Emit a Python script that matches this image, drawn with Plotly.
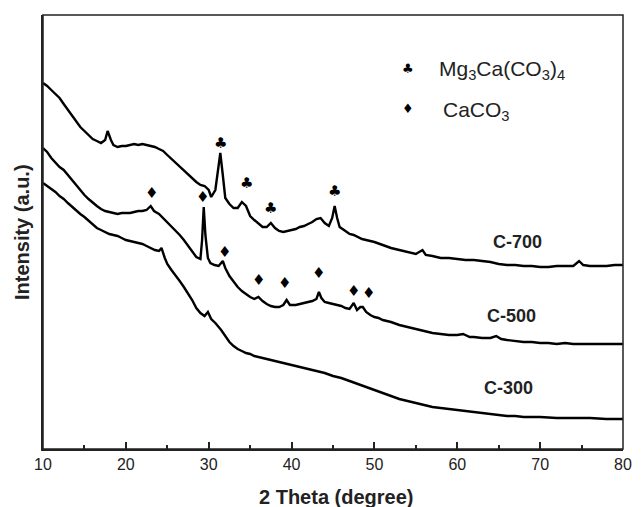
import plotly.graph_objects as go

# ---------------- data (intensity in arbitrary units) ----------------
c700_x = [10, 10.5, 11, 11.5, 12, 12.5, 13, 13.5, 14, 14.5, 15, 15.5, 16, 16.5, 17, 17.5,
          17.8, 18.2,
          18.5, 19, 19.5, 20, 20.5, 21, 21.5, 22, 22.5, 23, 23.5, 24, 24.5, 25, 25.5, 26, 26.5, 27,
          27.5, 28, 28.5, 29, 29.5, 30,
          30.3, 30.8, 31.1, 31.4, 31.7, 32.0,
          32.5, 33, 33.5, 34, 34.5, 35, 35.5, 36, 36.5, 37, 37.5, 38, 38.5, 39, 39.5, 40, 40.5, 41,
          41.5, 42, 42.5, 43, 43.5, 44, 44.5,
          44.9, 45.2, 45.5, 45.8,
          46.5, 47, 47.5, 48, 48.5, 49, 49.5, 50,
          51, 52, 53, 54, 55,
          55.8, 56.2,
          57, 58, 59, 60, 61, 62, 63, 64, 65, 66, 67, 68, 69, 70, 71, 72, 73, 74,
          74.7, 75.2,
          76, 77, 78, 79, 80]
c700_y = [366, 363, 359, 355, 351, 345, 339, 334, 328, 322, 318, 314, 310, 308, 306, 309,
          318, 309,
          304, 302, 303, 303, 304, 305, 304, 305, 304, 303, 302, 300, 298, 294, 290, 287, 283, 279,
          275, 271, 267, 264, 263, 259,
          252, 259, 279, 296, 274, 251,
          245, 241, 241, 247, 243, 233, 229, 225, 222, 222, 226, 221, 218, 217, 218, 219, 220, 222,
          223, 225, 227, 230, 231, 226, 223,
          231, 243, 231, 222,
          218, 215, 214, 212, 210, 209, 208, 207,
          204, 201, 199, 197, 195,
          199, 194,
          193, 191, 191, 190, 189, 189, 188, 187, 185, 184, 184, 183, 183, 182, 182, 183, 183, 183,
          188, 184,
          183, 183, 183, 184, 184]

c500_x = [10, 10.5, 11, 11.5, 12, 12.5, 13, 13.5, 14, 14.5, 15, 15.5, 16, 16.5, 17, 17.5, 18,
          18.5, 19, 19.5, 20, 20.5, 21, 21.5, 22, 22.5, 23,
          23.4,
          24, 24.5, 25, 25.5, 26, 26.5, 27, 27.5, 28, 28.5, 29,
          29.2, 29.4, 29.6, 29.9, 30.2, 30.7, 31.2, 31.7,
          32, 32.5, 33, 33.5, 34, 34.5, 35, 35.5, 36, 36.5, 37, 37.5, 38, 38.5, 39,
          39.4, 39.8,
          40.5, 41, 41.5, 42, 42.5, 43,
          43.3, 43.6,
          44, 44.5, 45, 45.5, 46, 46.5, 47, 47.5,
          47.9, 48.3, 48.6,
          49, 49.5, 50, 50.5,
          51, 52, 53, 54, 55, 56, 57, 58, 59, 60,
          60.7, 61.5,
          62, 63, 64,
          64.7, 65.3,
          66, 67, 68, 69, 70, 71, 72, 73, 74, 75, 76, 77, 78, 79, 80]
c500_y = [301, 297, 291, 286, 282, 279, 274, 268, 263, 259, 254, 250, 246, 243, 240, 238, 237,
          236, 235, 236, 236, 236, 237, 238, 238, 239, 243,
          238,
          235, 231, 227, 222, 218, 214, 209, 203, 197, 192, 190,
          209, 242, 214, 191, 186, 184, 183, 188,
          181, 173, 167, 162, 158, 155, 152, 150, 152, 148, 145, 143, 142, 142, 144,
          149, 144,
          144, 145, 146, 147, 148, 150,
          157, 151,
          147, 146, 145, 144, 143, 141, 140, 146,
          139, 142, 142,
          137, 134, 132, 131,
          129, 127, 124, 122, 120, 118, 116, 115, 114, 114,
          115, 112,
          112, 111, 111,
          113, 110,
          109, 108, 107, 107, 106, 106, 105, 106, 105, 105, 105, 105, 105, 105, 105]

c300_x = [10, 10.5, 11, 11.5, 12, 12.5, 13, 13.5, 14, 14.5, 15, 15.5, 16, 16.5, 17, 17.5, 18,
          18.5, 19, 19.5, 20, 20.5, 21, 21.5, 22, 22.5, 23, 23.5, 24,
          24.3, 24.7,
          25, 25.5, 26, 26.5, 27, 27.5, 28, 28.5, 29, 29.5,
          29.9, 30.3, 30.8, 31.5,
          32, 32.5, 33, 33.5, 34, 34.5, 35, 35.5, 36, 36.5, 37,
          38, 39, 40, 41, 42, 43, 44, 45, 46, 47, 48, 49, 50, 51, 52, 53, 54, 55, 56, 57, 58, 59,
          60, 61, 62, 63, 64, 65, 66, 67, 68, 69, 70,
          72, 74, 76, 78, 80]
c300_y = [266, 263, 260, 257, 253, 250, 246, 242, 238, 235, 232, 228, 224, 221, 219, 217, 215,
          214, 213, 211, 209, 208, 207, 206, 205, 203, 201, 199, 198,
          201, 191,
          185, 179, 174, 168, 162, 156, 149, 141, 136, 133,
          137, 130, 126, 119,
          113, 107, 103, 100, 98, 96, 95, 93, 92, 91, 90,
          88, 86, 84, 82, 80, 78, 76, 73, 71, 68, 65, 62, 59, 56, 53, 50, 48, 46, 44, 42, 41, 40,
          39, 38, 37, 36, 35, 34, 33, 33, 32, 32, 32,
          31, 31, 31, 30, 30]

sample_names = ["C-700", "C-500", "C-300"]
sample_label_x = [67.3, 66.5, 66.2]
sample_label_y = [207, 133, 61]

club_x = [31.4, 34.5, 37.5, 45.2]
club_y = [306, 266, 241, 258]
diamond_x = [23.1, 29.3, 31.9, 36.0, 39.2, 43.3, 47.5, 49.3]
diamond_y = [256, 252, 197, 169, 166, 176, 158, 156]

phase_names = ["Mg<sub>3</sub>Ca(CO<sub>3</sub>)<sub>4</sub>", "CaCO<sub>3</sub>"]
phase_symbols = ["\u2663", "\u2666"]

x_ticks = [10, 20, 30, 40, 50, 60, 70, 80]

# ---------------- figure ----------------
fig = go.Figure()
for xs, ys, name in [(c700_x, c700_y, "C-700"), (c500_x, c500_y, "C-500"), (c300_x, c300_y, "C-300")]:
    fig.add_trace(go.Scatter(x=xs, y=ys, mode="lines", name=name,
                             line=dict(color="black", width=2.4), showlegend=False))

FONT = "Liberation Sans, Arial, sans-serif"
SYM_FONT = "DejaVu Sans"
ann = []
for x, y in zip(club_x, club_y):
    ann.append(dict(x=x, y=y, xref="x", yref="y", text=phase_symbols[0], showarrow=False,
                    font=dict(family=SYM_FONT, size=15, color="black")))
for x, y in zip(diamond_x, diamond_y):
    ann.append(dict(x=x, y=y, xref="x", yref="y", text=phase_symbols[1], showarrow=False,
                    font=dict(family=SYM_FONT, size=15, color="black")))
for name, x, y in zip(sample_names, sample_label_x, sample_label_y):
    ann.append(dict(x=x, y=y, xref="x", yref="y", text="<b>" + name + "</b>", showarrow=False,
                    font=dict(family=FONT, size=18, color="#222")))
# phase legend
legend_sym_y = [381, 341]
legend_txt_y = [379, 338]
legend_txt_x = [57.5, 58.0]
for sym, name, ys, yt, xt in zip(phase_symbols, phase_names, legend_sym_y, legend_txt_y, legend_txt_x):
    ann.append(dict(x=54.0, y=ys, xref="x", yref="y", text=sym, showarrow=False,
                    font=dict(family=SYM_FONT, size=13, color="black")))
    ann.append(dict(x=xt, y=yt, xref="x", yref="y", text=name,
                    showarrow=False, xanchor="left",
                    font=dict(family=FONT, size=21, color="#222")))
# axis titles
ann.append(dict(x=0.505, y=0, xref="paper", yref="paper", text="<b>2 Theta (degree)</b>",
                showarrow=False, yanchor="middle", yshift=-48,
                font=dict(family=FONT, size=20, color="#222")))
ann.append(dict(x=0, y=0.5, xref="paper", yref="paper", text="<b>Intensity (a.u.)</b>",
                showarrow=False, textangle=-90, xanchor="center", xshift=-21,
                font=dict(family=FONT, size=20, color="#222")))

fig.update_layout(
    width=644, height=507, autosize=False,
    margin=dict(l=43, r=12, t=15, b=58),
    paper_bgcolor="white", plot_bgcolor="white",
    annotations=ann,
    shapes=[dict(type="rect", xref="paper", yref="paper", x0=0, y0=0, x1=1, y1=1,
                 line=dict(color="#222", width=1.5), fillcolor="rgba(0,0,0,0)", layer="above")],
    xaxis=dict(range=[10, 80], tickvals=x_ticks, ticks="inside", ticklen=7, tickwidth=1.5,
               tickcolor="#222", showline=True, linecolor="#222", linewidth=1.5,
               showgrid=False, zeroline=False, ticklabeloverflow="allow",
               minor=dict(dtick=5, ticks="inside", ticklen=4, tickwidth=1.5, tickcolor="#222"),
               tickfont=dict(family=FONT, size=16, color="#222")),
    yaxis=dict(range=[0, 434], showticklabels=False, ticks="", showline=True, linecolor="#222",
               linewidth=1.5, showgrid=False, zeroline=False),
)

fig.write_html("out.html", config={"responsive": False, "displayModeBar": False},
               post_script="document.body.style.margin='0';document.body.style.overflow='hidden';")
